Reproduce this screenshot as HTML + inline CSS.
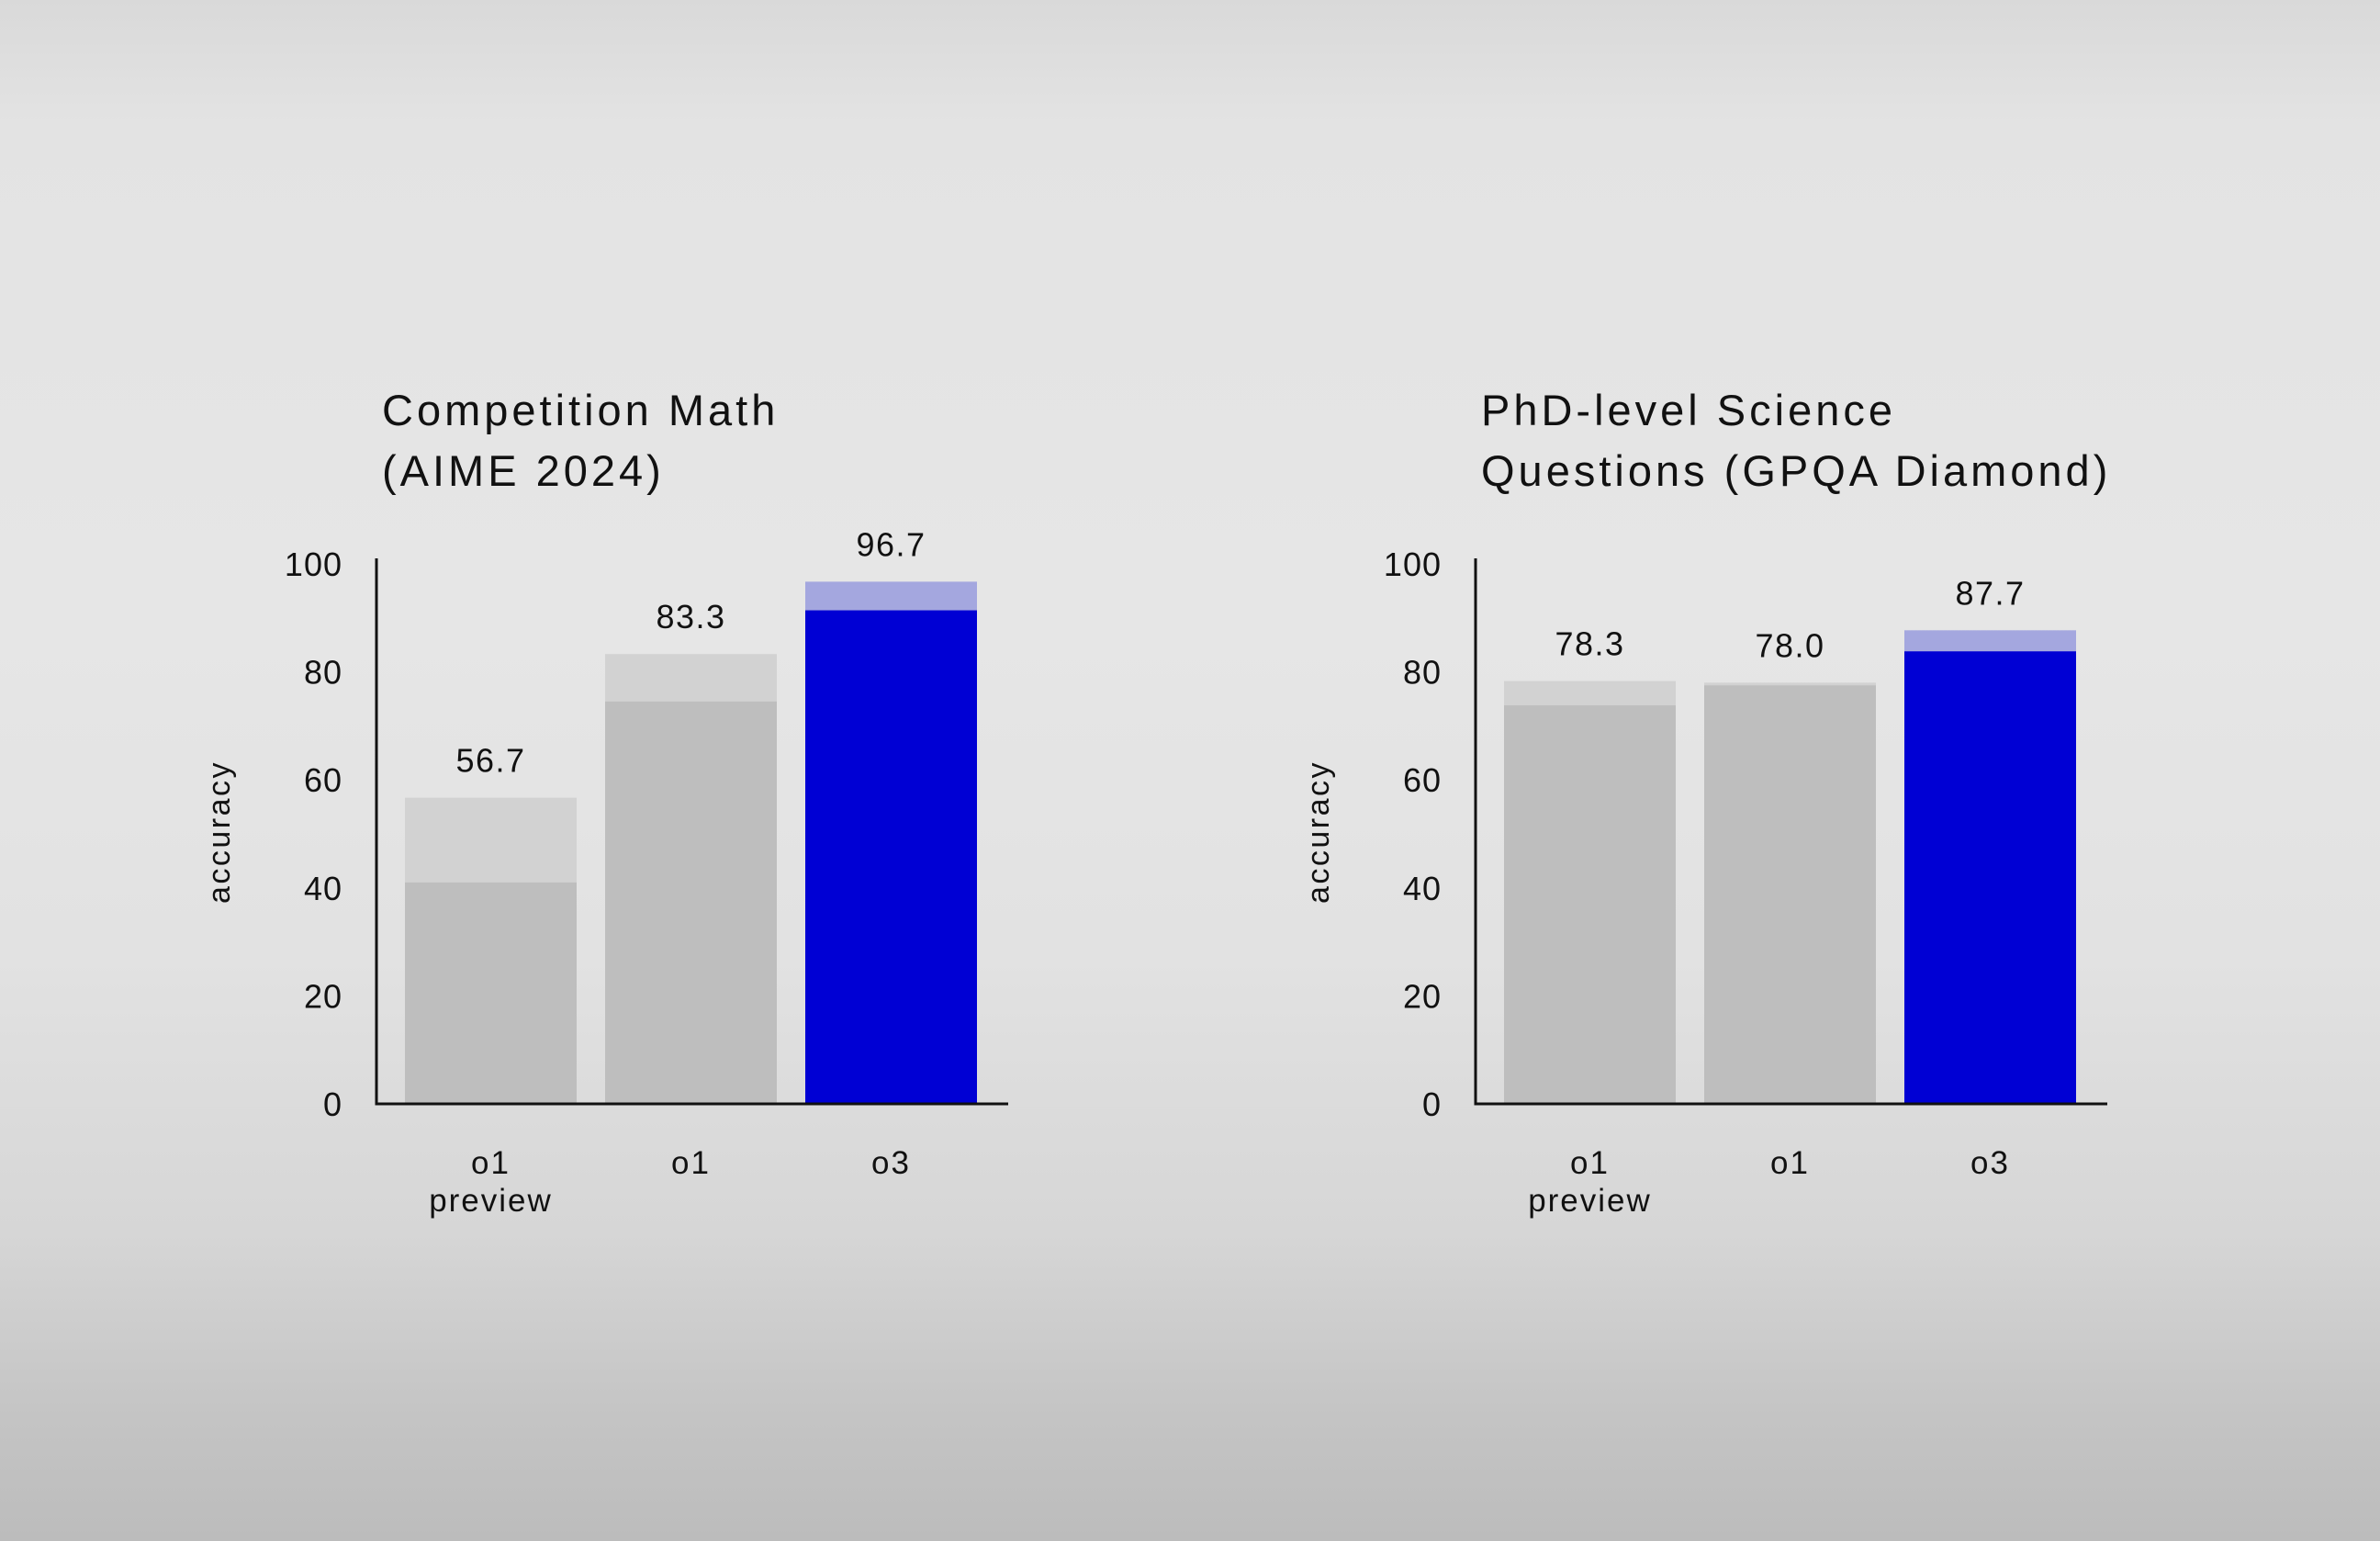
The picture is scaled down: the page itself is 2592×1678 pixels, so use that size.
<!DOCTYPE html>
<html><head><meta charset="utf-8">
<style>
html,body{margin:0;padding:0;}
body{width:2592px;height:1678px;overflow:hidden;
background:linear-gradient(180deg,#d9d9d9 0%,#e3e3e3 8%,#e6e6e6 40%,#e2e2e2 62%,#d6d6d6 80%,#c4c4c4 92%,#bcbcbc 100%);
font-family:"Liberation Sans",sans-serif;}
svg{position:absolute;left:0;top:0;}
text{font-family:"Liberation Sans",sans-serif;fill:#111;}
</style></head>
<body>
<svg id="chart" width="2592" height="1678" viewBox="0 0 2592 1678"></svg>
<script>
const categories = ["o1 preview", "o1", "o3"];
const mathTotals = [56.7, 83.3, 96.7];
const mathBase = [41.0, 74.5, 91.4];
const sciTotals = [78.3, 78.0, 87.7];
const sciBase = [73.8, 77.5, 83.8];
const tickLabels = [0, 20, 40, 60, 80, 100];

const NS = "http://www.w3.org/2000/svg";
const svg = document.getElementById("chart");
const Y0 = 1202, Y100 = 614;
function yScale(v){ return Y0 - (Y0 - Y100) * v / 100; }
function mk(tag, attrs, parent){
  const e = document.createElementNS(NS, tag);
  for (const k in attrs) e.setAttribute(k, attrs[k]);
  (parent || svg).appendChild(e);
  return e;
}

function drawChart(prefix, axisX, titleLines, totals, base){
  const g = mk("g", {});
  
  
  const barW = 187, gap = 31, firstX = axisX + 31;
  const xScale = i => firstX + i * (barW + gap);
  titleLines.forEach((t, i) => {
    const tt = mk("text", {x: axisX + 6, y: 463 + i * 66, "font-size": 47, "letter-spacing": 4}, g);
    tt.textContent = t;
    
    
  });
  totals.forEach((v, i) => {
    const x = xScale(i);
    const isO3 = categories[i] === "o3";
    const top = mk("rect", {x: x, y: yScale(v), width: barW, height: yScale(0) - yScale(v), fill: isO3 ? "#a4a7df" : "#d2d2d2"}, g);
    
    
    const b = mk("rect", {x: x, y: yScale(base[i]), width: barW, height: yScale(0) - yScale(base[i]), fill: isO3 ? "#0000d4" : "#bebebe"}, g);
    
    
    const lab = mk("text", {x: x + barW / 2, y: yScale(v) - 28, "font-size": 36, "letter-spacing": 1.5, "text-anchor": "middle"}, g);
    lab.textContent = v.toFixed(1);
    
    
    const parts = categories[i].split(" ");
    parts.forEach((p, j) => {
      const cl = mk("text", {x: x + barW / 2, y: 1278 + j * 41, "font-size": 35, "letter-spacing": 2, "text-anchor": "middle"}, g);
      cl.textContent = p;
      
      
    });
  });
  const ya = mk("line", {x1: axisX, y1: yScale(100) - 6, x2: axisX, y2: yScale(0) + 1.5, stroke: "#111", "stroke-width": 3}, g);
  
  
  const xa = mk("line", {x1: axisX - 1.5, y1: yScale(0), x2: axisX + 688, y2: yScale(0), stroke: "#111", "stroke-width": 3}, g);
  
  
  tickLabels.forEach(t => {
    const tl = mk("text", {x: axisX - 37, y: yScale(t) + 13, "font-size": 36, "letter-spacing": 1, "text-anchor": "end"}, g);
    tl.textContent = t;
    
    
  });
  const at = mk("text", {x: 0, y: 0, "font-size": 34, "letter-spacing": 2.5, "text-anchor": "middle", transform: "translate(" + (axisX - 160) + "," + 906 + ") rotate(-90)"}, g);
  at.textContent = "accuracy";
  
  
}

drawChart("math", 410, ["Competition Math", "(AIME 2024)"], mathTotals, mathBase);
drawChart("science", 1607, ["PhD-level Science", "Questions (GPQA Diamond)"], sciTotals, sciBase);
</script>
</body></html>
